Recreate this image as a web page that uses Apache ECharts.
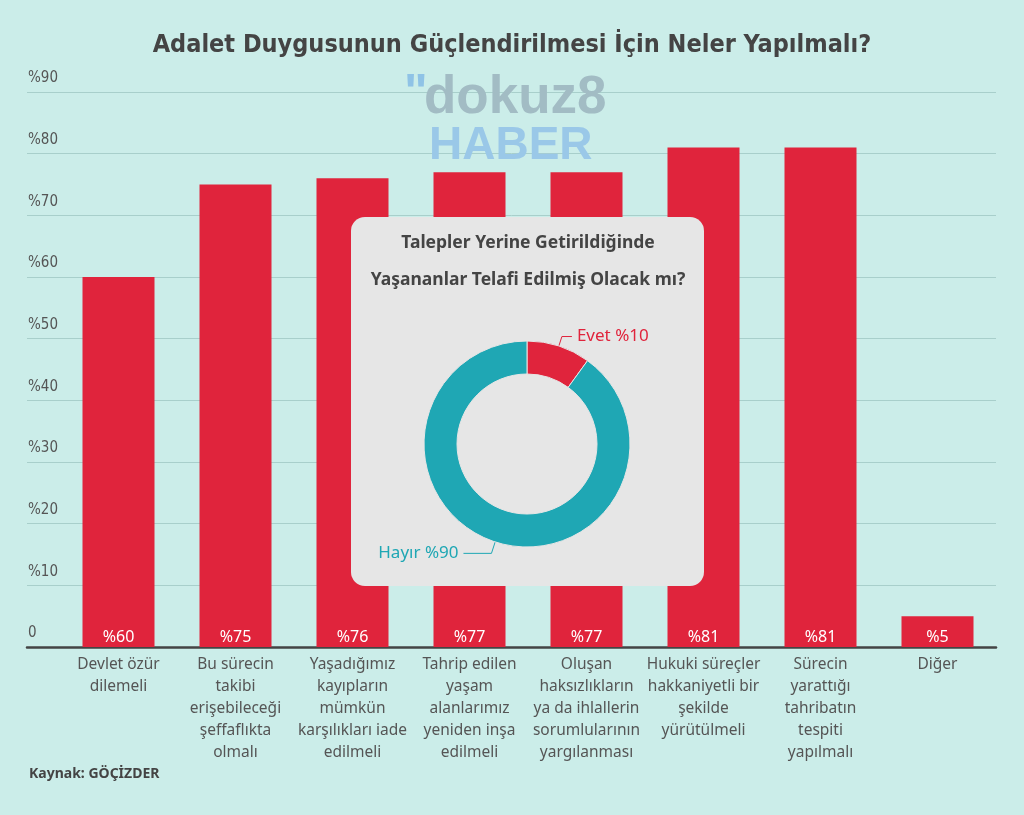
<!DOCTYPE html>
<html><head><meta charset="utf-8">
<script src="https://cdn.jsdelivr.net/npm/echarts@6/dist/echarts.min.js"></script>
<style>html,body{margin:0;padding:0;background:#cbede9;}#c{width:1024px;height:815px;}</style>
</head><body><div id="c"></div>
<script>
const categories = [
  "Devlet özür\ndilemeli",
  "Bu sürecin\ntakibi\nerişebileceği\nşeffaflıkta\nolmalı",
  "Yaşadığımız\nkayıpların\nmümkün\nkarşılıkları iade\nedilmeli",
  "Tahrip edilen\nyaşam\nalanlarımız\nyeniden inşa\nedilmeli",
  "Oluşan\nhaksızlıkların\nya da ihlallerin\nsorumlularının\nyargılanması",
  "Hukuki süreçler\nhakkaniyetli bir\nşekilde\nyürütülmeli",
  "Sürecin\nyarattığı\ntahribatın\ntespiti\nyapılmalı",
  "Diğer"
];
const values = [60, 75, 76, 77, 77, 81, 81, 5];
const pieNames = ["Evet", "Hayır"];
const pieValues = [10, 90];
const yTicks = [0, 10, 20, 30, 40, 50, 60, 70, 80, 90];

const RED = "#e0243c", TEAL = "#1fa7b4", TXT = "#444";
const FONT = "Noto Sans";
const COND = "DejaVu Sans Condensed";
const chart = echarts.init(document.getElementById('c'));
chart.setOption({
  backgroundColor: "#cbede9",
  animation: false,
  title: {
    text: "Adalet Duygusunun Güçlendirilmesi İçin Neler Yapılmalı?",
    left: "center", top: 28,
    textStyle: { fontFamily: COND, fontWeight: "bold", fontSize: 25, color: TXT }
  },
  grid: [
    { left: 27, right: 28, top: 92, bottom: 168 },
    { left: 60, right: 28, top: 92, bottom: 168 }
  ],
  xAxis: [
    { gridIndex: 0, type: "category", data: [""], axisTick: { show: false }, axisLabel: { show: false },
      axisLine: { show: true, lineStyle: { color: "#444", width: 2.5 } } },
    { gridIndex: 1, type: "category", data: categories, axisTick: { show: false }, axisLine: { show: false },
      axisLabel: { interval: 0, margin: 7, color: "#555", fontFamily: FONT, fontSize: 15.5, lineHeight: 22, align: "center" } }
  ],
  yAxis: [
    { gridIndex: 0, type: "value", min: yTicks[0], max: yTicks[yTicks.length - 1], interval: 10,
      axisLine: { show: false }, axisTick: { show: false },
      splitLine: { lineStyle: { color: "#a8cfcb", width: 1 } },
      axisLabel: { inside: true, margin: 1, verticalAlign: "bottom", padding: [0, 0, 6, 0], color: "#555",
        fontFamily: COND, fontSize: 15,
        formatter: v => v === 0 ? "0" : "%" + v } },
    { gridIndex: 1, type: "value", min: 0, max: 90, interval: 10, show: false, splitLine: { show: false } }
  ],
  graphic: [
    { type: "text", left: 404, top: 70, z: 1, style: { text: "\"", fill: "#8fc3e6", fontFamily: "Liberation Sans", fontWeight: "bold", fontSize: 50 } },
    { type: "text", left: 424, top: 72, z: 1, style: { text: "dokuz8", fill: "#a2bcc4", fontFamily: "Liberation Sans", fontWeight: "bold", fontSize: 53 } },
    { type: "text", left: 429, top: 123, z: 1, style: { text: "HABER", fill: "#9ac8e8", fontFamily: "Liberation Sans", fontWeight: "bold", fontSize: 46 } },
    { type: "text", left: 29, top: 767, style: { text: "Kaynak: GÖÇİZDER", fill: TXT, fontFamily: FONT, fontWeight: "bold", fontSize: 14 } },
    { type: "rect", z: 50, shape: { x: 351, y: 217, width: 353, height: 369, r: 14 }, style: { fill: "#e6e6e6" } },
    { type: "text", z: 51, x: 528, y: 243, style: { text: "Talepler Yerine Getirildiğinde", fill: TXT, fontFamily: FONT, fontWeight: "bold", fontSize: 17.5, align: "center", verticalAlign: "middle" } },
    { type: "text", z: 51, x: 528, y: 280, style: { text: "Yaşananlar Telafi Edilmiş Olacak mı?", fill: TXT, fontFamily: FONT, fontWeight: "bold", fontSize: 17.5, align: "center", verticalAlign: "middle" } }
  ],
  series: [
    { type: "bar", xAxisIndex: 1, yAxisIndex: 1, data: values, barWidth: 72,
      itemStyle: { color: RED },
      label: { show: true, position: "insideBottom", distance: 2, color: "#fff", fontFamily: FONT, fontSize: 16,
        formatter: p => "%" + p.value } },
    { type: "pie", z: 60, center: [527, 444], radius: [70, 103], startAngle: 90, clockwise: true,
      data: pieNames.map((n, i) => ({ name: n, value: pieValues[i], itemStyle: { color: i === 0 ? RED : TEAL },
        labelLine: i === 0 ? { length: 10, length2: 10 } : { length: 12, length2: 28 } })),
      itemStyle: { borderColor: "#e6e6e6", borderWidth: 1 },
      label: { show: true, fontFamily: FONT, fontSize: 17, formatter: p => p.name + " %" + p.value,
        color: "inherit" },
      labelLine: { show: true, lineStyle: { width: 1 } }
    }
  ]
});
</script></body></html>
